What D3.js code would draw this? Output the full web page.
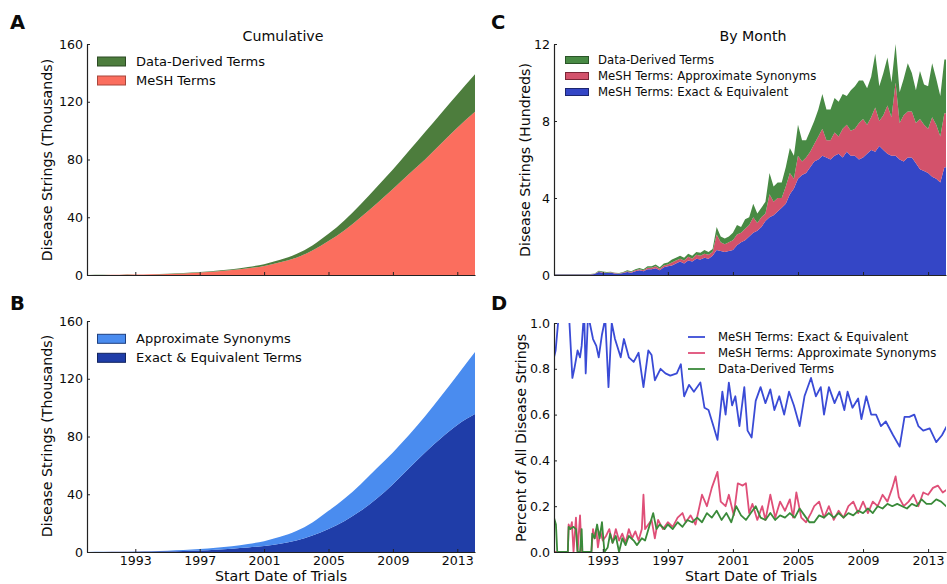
<!DOCTYPE html>
<html>
<head>
<meta charset="utf-8">
<script src="https://cdn.jsdelivr.net/npm/d3@7"></script>
<style>
  body { margin: 0; background: #fff; }
  text { font-family: "DejaVu Sans", sans-serif; fill: #0a0a0a; }
</style>
</head>
<body>
<svg id="fig" width="947" height="584"></svg>
<script>
// ---------- data ----------
// Cumulative disease strings (thousands), sampled by year
const cumYears = [1990,1991,1992,1993,1994,1995,1996,1997,1998,1999,2000,2001,2002,2003,2004,2005,2006,2007,2008,2009,2010,2011,2012,2013,2014.1];
const cumMesh = [0,0.08,0.15,0.3,0.5,0.75,1.1,1.7,2.4,3.4,4.6,6.3,8.8,12,17,23.5,31,40,49.5,59.5,70,80,91,102,113];
const cumDerived = [0,0.02,0.05,0.1,0.1,0.15,0.2,0.3,0.5,0.6,0.9,1.2,1.7,2.5,3.5,5,7,9,11.5,13.5,16,19,21,23,26];
const cumExact = [0,0.05,0.1,0.2,0.35,0.5,0.75,1.1,1.6,2.3,3.1,4.2,5.8,8,11.5,16,21.5,28.5,37,47,58,69,79,88,95.5];
const cumApprox = [0,0.05,0.1,0.2,0.25,0.4,0.55,0.9,1.3,1.7,2.4,3.3,4.7,6.5,9,12.5,15.5,18.5,21,22,23,25,29,34.5,43];

// Disease strings per month (hundreds), sampled quarterly from 1990.0
const monthStart = 1990, monthStep = 0.25;
const monthExact = [
  0.03,0.03,0.03,0.03, 0.03,0.03,0.03,0.03, 0.03,0.03,0.05,0.15, 0.12,0.1,0.12,0.08,
  0.06,0.1,0.15,0.12, 0.2,0.25,0.2,0.3, 0.3,0.35,0.25,0.4, 0.45,0.5,0.6,0.7,
  0.6,0.75,0.7,0.85, 0.8,0.9,0.85,1.0, 1.3,1.25,1.2,1.25, 1.3,1.55,1.7,1.8,
  2.0,2.2,2.3,2.5, 2.8,3.0,3.1,3.3, 3.5,3.7,4.2,4.5, 5.0,5.2,5.3,5.6,
  5.9,6.0,6.2,6.1, 6.0,6.2,6.3,6.1, 6.4,6.2,6.2,6.0, 6.1,6.3,6.5,6.4,
  6.7,6.5,6.3,6.2, 6.2,6.0,5.9,6.1, 6.1,5.8,5.5,5.4, 5.3,5.1,5.0,4.8, 5.6,5.6];
const monthApprox = [
  0.01,0.01,0.01,0.01, 0.01,0.01,0.01,0.01, 0.01,0.01,0.01,0.03, 0.02,0.02,0.02,0.02,
  0.02,0.03,0.05,0.04, 0.05,0.05,0.05,0.08, 0.08,0.1,0.08,0.1, 0.1,0.15,0.15,0.15,
  0.15,0.2,0.15,0.2, 0.2,0.2,0.2,0.2, 0.8,0.45,0.4,0.45, 0.5,0.55,0.5,0.6,
  0.6,0.8,0.4,0.5, 0.4,1.2,0.7,0.7, 0.5,0.9,1.1,0.5, 1.2,0.7,0.8,0.8,
  0.9,1.2,1.4,0.9, 1.0,1.2,0.9,1.5, 1.4,1.3,1.4,1.9, 2.0,1.5,1.7,2.3,
  1.3,1.8,2.5,2.0, 3.8,1.9,2.4,2.4, 2.4,2.1,2.6,2.4, 2.3,3.1,2.8,2.4, 2.8,2.8];
const monthDerived = [
  0.01,0.01,0.01,0.01, 0.01,0.01,0.01,0.01, 0.01,0.01,0.02,0.04, 0.04,0.03,0.03,0.02,
  0.02,0.03,0.05,0.04, 0.05,0.06,0.05,0.07, 0.07,0.1,0.07,0.1, 0.1,0.15,0.15,0.15,
  0.15,0.15,0.15,0.15, 0.15,0.2,0.15,0.15, 0.4,0.3,0.3,0.3, 0.4,0.5,0.3,0.5,
  0.4,0.7,0.5,0.5, 0.6,1.1,0.8,0.8, 0.8,1.0,1.3,1.2, 1.6,1.1,0.9,1.1,
  1.2,1.4,1.8,1.6, 1.6,1.8,1.8,1.8, 1.5,2.1,2.2,2.2, 2.0,1.9,2.1,2.8,
  1.8,2.2,2.5,1.8, 2.0,1.6,1.9,2.5, 2.0,1.7,2.5,2.1, 2.2,2.8,2.4,2.1, 2.8,2.8];

// Share of all disease strings, [date, fraction]
const shareExact = [[1990.0,0.85],[1990.1,0.88],[1990.25,1.0],[1990.35,1.1],[1990.9,1.1],[1990.95,1.0],[1991.13,0.76],[1991.25,0.8],[1991.45,0.88],[1991.6,0.85],[1991.7,0.9],[1991.85,1.05],[1991.95,0.78],[1992.1,1.05],[1992.2,1.0],[1992.4,0.93],[1992.6,0.9],[1992.75,0.85],[1992.95,0.95],[1993.15,1.02],[1993.35,0.72],[1993.55,1.0],[1993.75,0.93],[1994.1,0.85],[1994.3,0.93],[1994.6,0.85],[1994.9,0.83],[1995.2,0.87],[1995.5,0.72],[1995.8,0.88],[1996.0,0.86],[1996.2,0.75],[1996.55,0.8],[1996.85,0.78],[1997.15,0.77],[1997.55,0.78],[1997.8,0.82],[1998.0,0.68],[1998.3,0.73],[1998.6,0.7],[1999.0,0.74],[1999.25,0.63],[1999.5,0.62],[1999.8,0.55],[2000.05,0.49],[2000.35,0.7],[2000.55,0.6],[2000.75,0.74],[2000.95,0.64],[2001.15,0.68],[2001.4,0.55],[2001.7,0.72],[2001.9,0.53],[2002.15,0.5],[2002.4,0.66],[2002.7,0.72],[2003.0,0.65],[2003.3,0.71],[2003.55,0.62],[2003.85,0.68],[2004.15,0.6],[2004.45,0.7],[2004.75,0.64],[2005.1,0.55],[2005.4,0.68],[2005.8,0.76],[2006.1,0.68],[2006.4,0.72],[2006.6,0.6],[2006.9,0.72],[2007.25,0.65],[2007.55,0.7],[2007.85,0.62],[2008.05,0.7],[2008.35,0.63],[2008.7,0.67],[2008.9,0.58],[2009.2,0.68],[2009.5,0.6],[2009.8,0.6],[2010.1,0.55],[2010.4,0.57],[2010.85,0.51],[2011.25,0.46],[2011.55,0.59],[2011.85,0.59],[2012.15,0.6],[2012.4,0.55],[2012.7,0.53],[2013.1,0.54],[2013.5,0.48],[2013.85,0.51],[2014.15,0.55],[2014.3,0.53]];
const shareApprox = [[1990.0,0],[1990.85,0],[1990.9,0.12],[1991.0,0.1],[1991.1,0.13],[1991.2,0],[1991.35,0.15],[1991.45,0],[1991.6,0.16],[1991.7,0],[1992.3,0],[1992.4,0.1],[1992.5,0.06],[1992.6,0.1],[1992.7,0.02],[1992.85,0.09],[1993.0,0.05],[1993.2,0.07],[1993.4,0.1],[1993.6,0.04],[1993.8,0.1],[1994.0,0.05],[1994.2,0.08],[1994.4,0.04],[1994.6,0.1],[1994.8,0.06],[1995.0,0.09],[1995.2,0.05],[1995.4,0.1],[1995.5,0.25],[1995.6,0.1],[1995.8,0.12],[1996.0,0.14],[1996.2,0.06],[1996.4,0.14],[1996.7,0.1],[1997.0,0.13],[1997.3,0.11],[1997.6,0.15],[1997.9,0.17],[1998.1,0.13],[1998.4,0.16],[1998.7,0.12],[1999.1,0.25],[1999.4,0.2],[1999.7,0.28],[2000.05,0.35],[2000.25,0.22],[2000.55,0.2],[2000.75,0.25],[2001.05,0.16],[2001.3,0.3],[2001.6,0.29],[2001.8,0.3],[2002.0,0.17],[2002.2,0.21],[2002.5,0.14],[2002.8,0.2],[2003.0,0.14],[2003.3,0.25],[2003.6,0.15],[2003.9,0.22],[2004.2,0.18],[2004.5,0.23],[2004.7,0.15],[2004.9,0.26],[2005.2,0.15],[2005.5,0.13],[2005.8,0.17],[2006.0,0.2],[2006.3,0.22],[2006.6,0.15],[2006.9,0.2],[2007.2,0.14],[2007.5,0.18],[2007.8,0.15],[2008.1,0.2],[2008.4,0.22],[2008.7,0.17],[2009.0,0.22],[2009.3,0.17],[2009.6,0.22],[2009.9,0.2],[2010.2,0.25],[2010.5,0.22],[2010.8,0.28],[2011.0,0.33],[2011.2,0.24],[2011.5,0.2],[2011.8,0.22],[2012.1,0.25],[2012.4,0.2],[2012.7,0.26],[2013.0,0.25],[2013.3,0.28],[2013.6,0.29],[2013.9,0.26],[2014.1,0.27],[2014.3,0.26]];
const shareDerived = [[1990.0,0.15],[1990.12,0.12],[1990.2,0],[1990.85,0],[1990.9,0.11],[1991.0,0.1],[1991.2,0.11],[1991.35,0.1],[1991.45,0],[1991.6,0],[1991.7,0.1],[1991.75,0],[1992.3,0],[1992.35,0.08],[1992.5,0.06],[1992.65,0.12],[1992.8,0.06],[1992.95,0.13],[1993.1,0],[1993.3,0.02],[1993.45,0.08],[1993.6,0.04],[1993.8,0.07],[1994.0,0.0],[1994.2,0.06],[1994.4,0.03],[1994.6,0.07],[1994.9,0.05],[1995.1,0.03],[1995.4,0.06],[1995.6,0.05],[1996.1,0.17],[1996.3,0.1],[1996.5,0.12],[1996.8,0.1],[1997.0,0.12],[1997.3,0.1],[1997.6,0.13],[1997.9,0.11],[1998.2,0.14],[1998.5,0.13],[1998.8,0.15],[1999.1,0.13],[1999.4,0.17],[1999.7,0.15],[2000.0,0.18],[2000.3,0.14],[2000.6,0.17],[2000.9,0.13],[2001.2,0.2],[2001.5,0.16],[2001.8,0.14],[2002.1,0.17],[2002.4,0.2],[2002.7,0.15],[2003.0,0.14],[2003.3,0.17],[2003.6,0.14],[2003.9,0.16],[2004.2,0.15],[2004.5,0.17],[2004.8,0.15],[2005.1,0.19],[2005.4,0.16],[2005.7,0.13],[2006.0,0.13],[2006.3,0.16],[2006.6,0.15],[2006.9,0.17],[2007.2,0.15],[2007.5,0.17],[2007.8,0.15],[2008.1,0.17],[2008.4,0.16],[2008.7,0.18],[2009.0,0.17],[2009.3,0.19],[2009.6,0.17],[2009.9,0.2],[2010.2,0.19],[2010.5,0.21],[2010.8,0.2],[2011.1,0.21],[2011.4,0.2],[2011.7,0.19],[2012.0,0.21],[2012.3,0.2],[2012.6,0.23],[2012.9,0.21],[2013.2,0.21],[2013.5,0.23],[2013.8,0.22],[2014.1,0.2],[2014.3,0.21]];

const yearTicks = [1993,1997,2001,2005,2009,2013];
const cumTicks = [0,40,80,120,160];
const monthTicks = [0,4,8,12];
const shareTicks = [0,0.2,0.4,0.6,0.8,1.0];

// ---------- layout ----------
const svg = d3.select("#fig");
const T = 12.6, L = 14.2;

const xL = d3.scaleLinear().domain([1990, 2014.1]).range([87, 475]);
const xR = d3.scaleLinear().domain([1990, 2014.1]).range([554, 946]);
const yA = d3.scaleLinear().domain([0, 160]).range([275, 44]);
const yB = d3.scaleLinear().domain([0, 160]).range([552, 321]);
const yC = d3.scaleLinear().domain([0, 12]).range([275, 44]);
const yD = d3.scaleLinear().domain([0, 1]).range([552, 323]);

function clip(id, x, y) {
  svg.append("clipPath").attr("id", id).append("rect")
    .attr("x", x.range()[0]).attr("y", y.range()[1])
    .attr("width", x.range()[1] - x.range()[0]).attr("height", y.range()[0] - y.range()[1]);
}
clip("cA", xL, yA); clip("cB", xL, yB); clip("cC", xR, yC); clip("cD", xR, yD);

function stackedAreas(g, times, cols, keys, colors, x, y, curve) {
  const rows = times.map((t, i) => {
    const r = { t };
    keys.forEach((k, j) => r[k] = cols[j][i]);
    return r;
  });
  const layers = d3.stack().keys(keys)(rows);
  const area = d3.area().curve(curve)
    .x(d => x(d.data.t)).y0(d => y(d[0])).y1(d => y(d[1]));
  g.selectAll("path.layer").data(layers).join("path")
    .attr("class", "layer").attr("d", area)
    .attr("fill", (d, i) => colors[i]).attr("stroke", "none");
}

function axes(x, y, yt, fmt, showX) {
  const gx = svg.append("g").attr("transform", `translate(0,${y.range()[0]})`)
    .call(d3.axisBottom(x).tickValues(yearTicks).tickSizeInner(-3).tickSizeOuter(0).tickPadding(4)
      .tickFormat(showX ? d3.format("d") : () => ""));
  const gy = svg.append("g").attr("transform", `translate(${x.range()[0]},0)`)
    .call(d3.axisLeft(y).tickValues(yt).tickSizeInner(-3).tickSizeOuter(0).tickPadding(4).tickFormat(fmt));
  [gx, gy].forEach(g => {
    g.select(".domain").attr("stroke", "#222").attr("stroke-width", 1.2);
    g.selectAll(".tick line").attr("stroke", "#222");
    g.selectAll(".tick text").style("font-size", T + "px").attr("fill", "#0a0a0a");
  });
}

function yLabel(text, x, yc) {
  svg.append("text").attr("transform", `translate(${x},${yc}) rotate(-90)`)
    .attr("text-anchor", "middle").style("font-size", L + "px").text(text);
}
function xLabel(text, xc, y) {
  svg.append("text").attr("x", xc).attr("y", y).attr("text-anchor", "middle")
    .style("font-size", L + "px").text(text);
}
function letter(t, x, y) {
  svg.append("text").attr("x", x).attr("y", y).style("font-size", "19.5px")
    .style("font-weight", "bold").text(t);
}
function patchLegend(items, x, y0, dy, w, h, fs, tx) {
  items.forEach(([label, fill, edge], i) => {
    const yy = y0 + i * dy;
    svg.append("rect").attr("x", x).attr("y", yy - h / 2).attr("width", w).attr("height", h)
      .attr("fill", fill).attr("stroke", edge).attr("stroke-width", 1);
    svg.append("text").attr("x", tx).attr("y", yy + fs * 0.36).style("font-size", fs + "px").text(label);
  });
}

// ---------- A: cumulative, MeSH vs data-derived ----------
const gA = svg.append("g").attr("clip-path", "url(#cA)");
stackedAreas(gA, cumYears, [cumMesh, cumDerived], ["mesh", "derived"],
  ["#fb6e5e", "#4d7d3d"], xL, yA, d3.curveMonotoneX);
axes(xL, yA, cumTicks, d3.format("d"), false);
yLabel("Disease Strings (Thousands)", 52, 160);
svg.append("text").attr("x", 283).attr("y", 41).attr("text-anchor", "middle")
  .style("font-size", L + "px").text("Cumulative");
letter("A", 10, 29);
patchLegend([["Data-Derived Terms", "#4d7d3d", "#2c4a24"], ["MeSH Terms", "#fb6e5e", "#a8473c"]],
  97.5, 61.5, 19, 28, 9, 13, 136);

// ---------- B: cumulative, exact vs approximate ----------
const gB = svg.append("g").attr("clip-path", "url(#cB)");
stackedAreas(gB, cumYears, [cumExact, cumApprox], ["exact", "approx"],
  ["#1f3da8", "#4a8cef"], xL, yB, d3.curveMonotoneX);
axes(xL, yB, cumTicks, d3.format("d"), true);
yLabel("Disease Strings (Thousands)", 52, 436);
xLabel("Start Date of Trials", 281, 581);
letter("B", 10, 310);
patchLegend([["Approximate Synonyms", "#4a8cef", "#1d3f80"], ["Exact & Equivalent Terms", "#1f3da8", "#12245e"]],
  97.5, 338.8, 19, 28, 9, 13, 136);

// ---------- C: per month, three categories ----------
const monthTimes = monthExact.map((_, i) => monthStart + i * monthStep);
const gC = svg.append("g").attr("clip-path", "url(#cC)");
stackedAreas(gC, monthTimes, [monthExact, monthApprox, monthDerived], ["exact", "approx", "derived"],
  ["#3446c6", "#d3526b", "#488a44"], xR, yC, d3.curveLinear);
axes(xR, yC, monthTicks, d3.format("d"), false);
yLabel("Disease Strings (Hundreds)", 530, 160);
svg.append("text").attr("x", 753).attr("y", 41).attr("text-anchor", "middle")
  .style("font-size", L + "px").text("By Month");
letter("C", 491, 29);
patchLegend([["Data-Derived Terms", "#488a44", "#2a5528"],
             ["MeSH Terms: Approximate Synonyms", "#d3526b", "#7a2535"],
             ["MeSH Terms: Exact & Equivalent", "#3446c6", "#1c2670"]],
  565.5, 60, 16, 23, 7, 11.7, 598);

// ---------- D: share of all strings ----------
const gD = svg.append("g").attr("clip-path", "url(#cD)");
const line = d3.line().x(d => xR(d[0])).y(d => yD(d[1]));
[[shareExact, "#3a4bd6"], [shareApprox, "#df4f78"], [shareDerived, "#3a8a3a"]].forEach(([s, c]) => {
  gD.append("path").datum(s).attr("d", line).attr("fill", "none")
    .attr("stroke", c).attr("stroke-width", 1.8).attr("stroke-linejoin", "round");
});
axes(xR, yD, shareTicks, d3.format(".1f"), true);
yLabel("Percent of All Disease Strings", 526, 438);
xLabel("Start Date of Trials", 751, 581);
letter("D", 491, 310);
[["MeSH Terms: Exact & Equivalent", "#3a4bd6"], ["MeSH Terms: Approximate Synonyms", "#df4f78"],
 ["Data-Derived Terms", "#3a8a3a"]].forEach(([label, c], i) => {
  const yy = 337 + i * 16;
  svg.append("line").attr("x1", 688).attr("x2", 705).attr("y1", yy).attr("y2", yy)
    .attr("stroke", c).attr("stroke-width", 1.8);
  svg.append("text").attr("x", 718).attr("y", yy + 4.2).style("font-size", "11.7px").text(label);
});
</script>
</body>
</html>
